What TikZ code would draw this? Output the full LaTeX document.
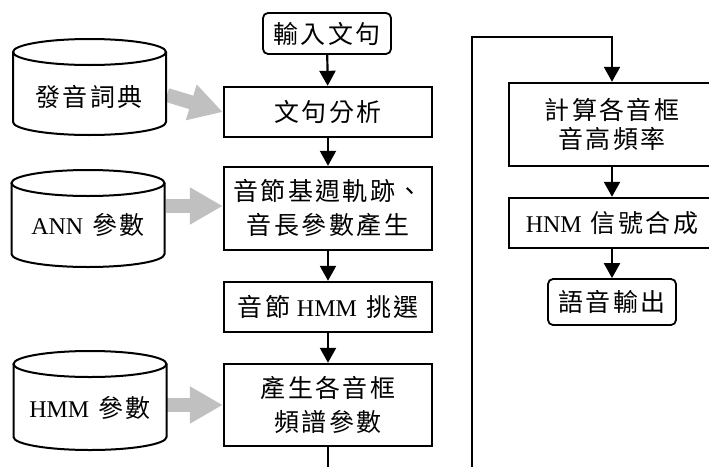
\documentclass[tikz,border=0pt]{standalone}
\usepackage{fontspec}
\setmainfont{Liberation Serif}
\newfontfamily\zh{Noto Sans CJK TC}[Scale=1.04,LetterSpace=10]
\usetikzlibrary{arrows.meta}
\definecolor{feedgray}{RGB}{192,192,192}
\newcommand\gapL{\hspace{7pt}}
\newcommand\gapR{\hspace{9pt}}
\begin{document}
\begin{tikzpicture}[x=1pt,y=-1pt,
  every node/.style={font=\fontsize{24}{34}\selectfont, inner sep=0pt, align=center},
  stepbox/.style={draw, line width=2.4pt, minimum width=208pt, minimum height=50pt},
  widebox/.style={stepbox, minimum width=206pt},
  terminal/.style={draw, line width=1.8pt, rounded corners=5pt, minimum width=128pt, minimum height=41pt},
  flow/.style={line width=2.2pt, -{Triangle[width=16pt,length=15pt]}},
  feed/.style={draw=feedgray, line width=14pt, -{Triangle[width=35pt,length=33pt]}},
  drumline/.style={line width=2pt}]
\useasboundingbox (0,0) rectangle (709,466);
\clip (0,0) rectangle (709,466);

% main flow, left column
\node[terminal] (in) at (327,33.5) {{\zh 輸入文句}};
\node[stepbox] (ana) at (328,112) {{\zh 文句分析}};
\node[stepbox, minimum height=83pt] (pro) at (328,208.5) {{\zh 音節基週軌跡、}\\{\zh 音長參數產生}};
\node[stepbox] (sel) at (328,307) {{\zh 音節}\gapL HMM\gapR{\zh 挑選}};
\node[stepbox, minimum height=82pt] (gen) at (328,405) {{\zh 產生各音框}\\{\zh 頻譜參數}};

% main flow, right column
\node[widebox, minimum height=83pt, font=\fontsize{24}{28.5}\selectfont] (calc) at (612,124.5) {{\zh 計算各音框}\\{\zh 音高頻率}};
\node[widebox] (hnm) at (612,223) {HNM\gapR{\zh 信號合成}};
\node[terminal, minimum height=46pt] (out) at (612,302) {{\zh 語音輸出}};

\draw[flow] (in) -- (ana);
\draw[flow] (ana) -- (pro);
\draw[flow] (pro) -- (sel);
\draw[flow] (sel) -- (gen);
\coordinate (b1) at (328,490);
\coordinate (b2) at (472,490);
\coordinate (t1) at (472,37);
\draw[flow] (gen.south) -- (b1) -- (b2) -- (t1) -- (t1 -| calc) -- (calc.north);
\draw[flow] (calc) -- (hnm);
\draw[flow] (hnm) -- (out);

% data stores feeding the flow
\coordinate (dictR) at (167,95);
\coordinate (annR) at (166,206);
\coordinate (hmmR) at (166,405);
\draw[feed] (dictR) -- (ana.west);
\draw[feed] (annR) -- (pro.west |- annR);
\draw[feed] (hmmR) -- (gen.west |- hmmR);

\foreach \cx/\ty/\by in {89.5/52/122, 88/183/254, 90/364/437} {
  \fill[white] (\cx-76.5,\ty) -- (\cx-76.5,\by) arc[start angle=180,end angle=0,x radius=76.5,y radius=13] -- (\cx+76.5,\ty) -- cycle;
  \draw[drumline] (\cx,\ty) ellipse[x radius=76.5,y radius=13];
  \draw[drumline] (\cx-76.5,\ty) -- (\cx-76.5,\by) arc[start angle=180,end angle=0,x radius=76.5,y radius=13] -- (\cx+76.5,\ty);
}
\node (dict) at (89,97) {{\zh 發音詞典}};
\node (ann) at (88,225) {ANN\gapR{\zh 參數}};
\node (hmmp) at (90,408) {HMM\gapR{\zh 參數}};
\end{tikzpicture}
\end{document}
